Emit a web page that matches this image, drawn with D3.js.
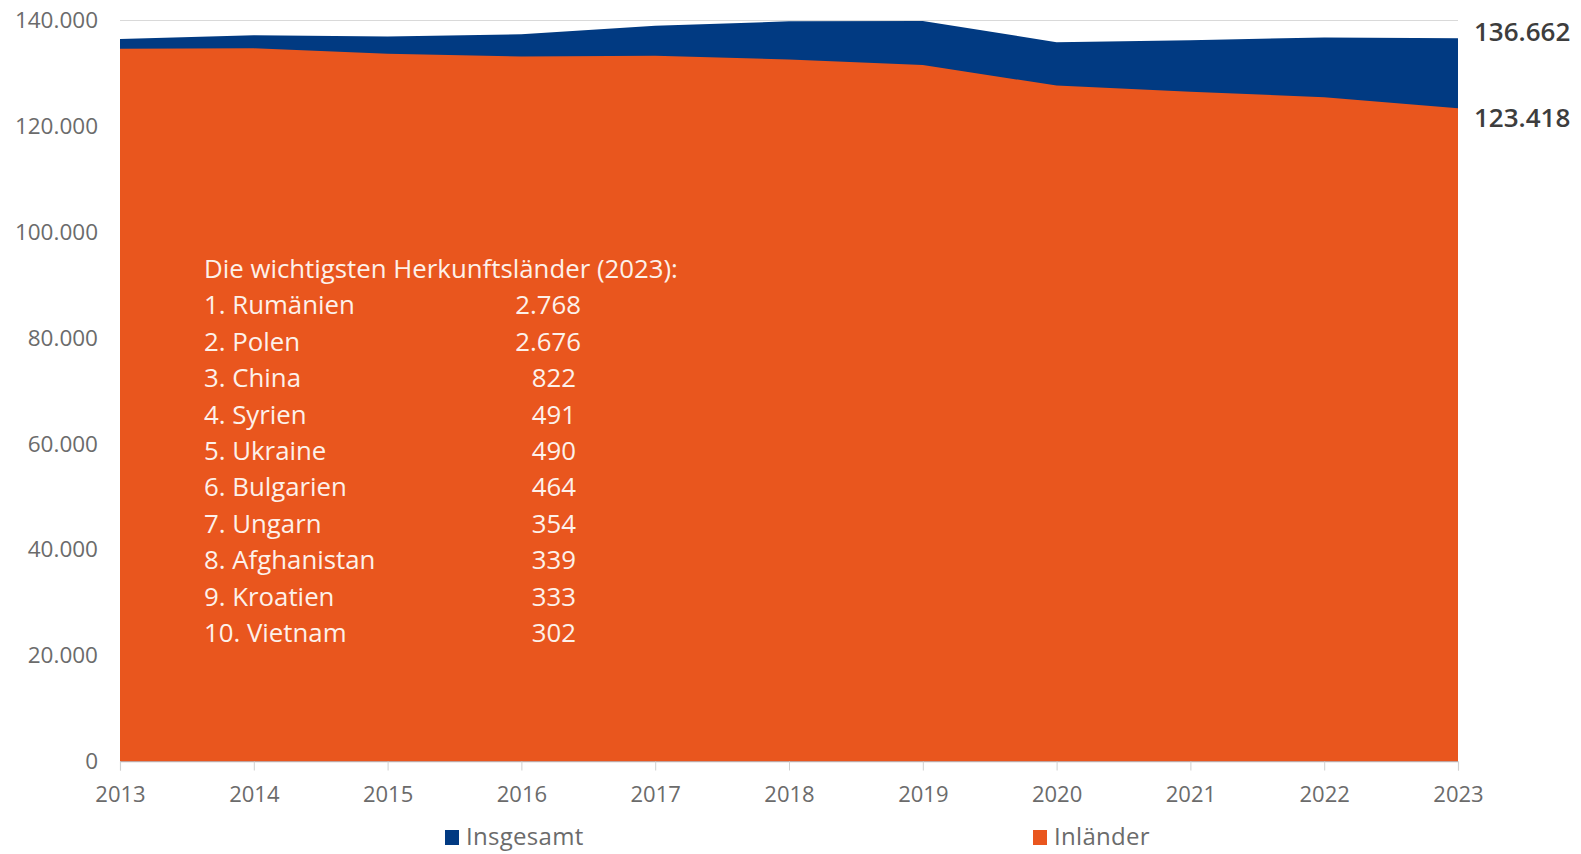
<!DOCTYPE html>
<html>
<head>
<meta charset="utf-8">
<script src="https://cdn.jsdelivr.net/npm/d3@7"></script>
<style>
  html, body { margin: 0; padding: 0; background: #fff; }
  svg { display: block; }
</style>
</head>
<body>
<svg id="chart" width="1581" height="854"></svg>
<script>
// ---- data ----
const years = [2013, 2014, 2015, 2016, 2017, 2018, 2019, 2020, 2021, 2022, 2023];
const insgesamt = [136500, 137200, 137000, 137400, 139000, 139850, 139900, 135900, 136250, 136800, 136662];
const inlaender = [134650, 134750, 133700, 133200, 133350, 132650, 131600, 127700, 126550, 125500, 123418];
const yTicks = [0, 20000, 40000, 60000, 80000, 100000, 120000, 140000];
const seriesNames = ["Insgesamt", "Inländer"];
const seriesColors = ["#013A82", "#E9561E"];
const noteTitle = "Die wichtigsten Herkunftsländer (2023):";
const countries = ["1. Rumänien", "2. Polen", "3. China", "4. Syrien", "5. Ukraine", "6. Bulgarien", "7. Ungarn", "8. Afghanistan", "9. Kroatien", "10. Vietnam"];
const countryValues = [2768, 2676, 822, 491, 490, 464, 354, 339, 333, 302];

// ---- setup ----
const de = d3.formatLocale({decimal: ",", thousands: ".", grouping: [3], currency: ["", " €"]});
const fmt = de.format(",d");

const svg = d3.select("#chart");
const x = d3.scaleLinear().domain([2013, 2023]).range([120, 1458]);
const y = d3.scaleLinear().domain([0, 140000]).range([761.5, 20.5]);

const axisFont = "'Open Sans', sans-serif";

// gridlines
svg.append("g").selectAll("line").data(yTicks).join("line")
  .attr("x1", x(2013)).attr("x2", x(2023))
  .attr("y1", d => y(d)).attr("y2", d => y(d))
  .attr("stroke", "#d9d9d9").attr("stroke-width", 1.2);

// areas
const rows = years.map((yr, i) => ({yr, tot: insgesamt[i], inl: inlaender[i]}));
const areaTot = d3.area().x(d => x(d.yr)).y0(y(0)).y1(d => y(d.tot));
const areaInl = d3.area().x(d => x(d.yr)).y0(y(0)).y1(d => y(d.inl));
svg.append("path").datum(rows).attr("d", areaTot).attr("fill", seriesColors[0]);
svg.append("path").datum(rows).attr("d", areaInl).attr("fill", seriesColors[1]);

// x axis
const xAxis = d3.axisBottom(x).tickValues(years).tickFormat(d3.format("d")).tickSize(9).tickPadding(16);
const gx = svg.append("g").attr("transform", `translate(0,${y(0)})`).call(xAxis);
gx.select(".domain").attr("stroke", "#d9d9d9").attr("stroke-width", 1.2);
gx.selectAll(".tick line").attr("stroke", "#d0d0d0");
gx.selectAll(".tick text").attr("fill", "#6b6b6b").style("font-family", axisFont).style("font-size", "22px");

// y axis
const yAxis = d3.axisLeft(y).tickValues(yTicks).tickFormat(fmt).tickSize(0).tickPadding(22);
const gy = svg.append("g").attr("transform", `translate(120,0)`).call(yAxis);
gy.select(".domain").remove();
gy.selectAll(".tick text").attr("fill", "#6b6b6b").style("font-family", axisFont).style("font-size", "22.5px");

// end labels
const last = rows[rows.length - 1];
svg.append("text").attr("x", 1474).attr("y", y(last.tot) - 6).attr("dy", "0.35em")
  .attr("fill", "#3d3d3d").style("font-family", axisFont).style("font-size", "26px").style("font-weight", 600)
  .text(fmt(last.tot));
svg.append("text").attr("x", 1474).attr("y", y(last.inl) + 10).attr("dy", "0.35em")
  .attr("fill", "#3d3d3d").style("font-family", axisFont).style("font-size", "26px").style("font-weight", 600)
  .text(fmt(last.inl));

// annotation
const noteFont = "'Open Sans', 'Noto Sans', sans-serif";
const note = svg.append("g").style("font-family", noteFont).style("font-size", "25.8px").attr("fill", "#fdf1ea");
note.append("text").attr("x", 204).attr("y", 269).attr("dy", "0.35em").text(noteTitle);
const lineH = 36.4;
note.selectAll("text.c").data(countries).join("text").attr("class", "c")
  .attr("x", 204).attr("y", (d, i) => 269 + (i + 1) * lineH).attr("dy", "0.35em").text(d => d);
note.selectAll("text.v").data(countryValues).join("text").attr("class", "v")
  .attr("x", d => d >= 1000 ? 581 : 576).attr("text-anchor", "end")
  .attr("y", (d, i) => 269 + (i + 1) * lineH).attr("dy", "0.35em").text(d => fmt(d));

// legend
const legendX = [445, 1033];
const lg = svg.append("g").selectAll("g").data(seriesNames).join("g")
  .attr("transform", (d, i) => `translate(${legendX[i]},0)`);
lg.append("rect").attr("x", 0).attr("y", 830).attr("width", 14).attr("height", 15)
  .attr("fill", (d, i) => seriesColors[i]);
lg.append("text").attr("x", 21).attr("y", 837).attr("dy", "0.35em")
  .attr("fill", "#6b6b6b").style("font-family", axisFont).style("font-size", "24px")
  .style("letter-spacing", "0.3px").text(d => d);
</script>
</body>
</html>
